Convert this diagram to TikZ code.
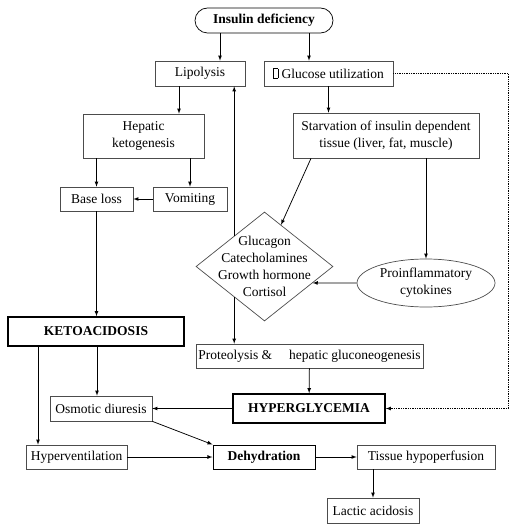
\documentclass[tikz,border=0pt]{standalone}
\usepackage{fontspec}
\setmainfont{Liberation Serif}
\newfontfamily\boxfont{Liberation Serif}
\usetikzlibrary{shapes.geometric,calc}

\newcommand{\nochar}{{\setlength{\fboxsep}{0pt}\setlength{\fboxrule}{0.5pt}\fbox{\rule{0.3em}{0pt}\rule{0pt}{0.68em}}}}

\begin{document}
\begin{tikzpicture}[
        x=1pt, y=-1pt, line width=0.75pt,
        every node/.style={font=\boxfont\fontsize{13.5}{17}\selectfont},
        proc/.style={rectangle, draw=black!70, line width=0.7pt, minimum height=25, inner sep=2pt, align=center},
        keybox/.style={proc, draw=black, line width=1.6pt, minimum height=29, font=\boxfont\fontsize{13.5}{17}\selectfont\bfseries},
        start/.style={proc, draw=black, rounded corners=12.5, font=\boxfont\fontsize{13.5}{17}\selectfont\bfseries},
        hormone/.style={diamond, draw=black!70, line width=0.7pt, minimum width=137, minimum height=109, inner sep=-30pt, align=center},
        cyto/.style={ellipse, draw=black!70, line width=0.7pt, minimum width=138, minimum height=48, inner sep=0pt, align=center},
    ]
        \useasboundingbox (0,0) rectangle (514,524);

        \node[start, minimum width=138] (insulin) at (264,20.5) {Insulin deficiency};
        \node[proc, minimum width=90] (lipo) at (200,73.5) {Lipolysis};
        \node[proc, minimum width=129] (gluc) at (328.5,73.5) {\nochar\ Glucose utilization};
        \node[proc, minimum width=186, minimum height=45] (starv) at (386,135.5) {Starvation of insulin dependent\\tissue (liver, fat, muscle)};
        \node[proc, minimum width=121, minimum height=44] (hep) at (143.5,136) {Hepatic\\ketogenesis};
        \node[proc, minimum width=73, minimum height=24] (base) at (96.5,199) {Base loss};
        \node[proc, minimum width=74, minimum height=24] (vomit) at (190,199) {Vomiting};
        \node[keybox, minimum width=176] (keto) at (96,331.5) {KETOACIDOSIS};
        \node[hormone] (horm) at (264.5,266.5) {Glucagon\\Catecholamines\\Growth hormone\\Cortisol};
        \node[cyto] (cyto) at (426,283) {Proinflammatory\\cytokines};
        \node[proc, minimum width=227, minimum height=24] (prot) at (309.5,356) {Proteolysis \&\hspace{1.25em}hepatic gluconeogenesis};
        \node[keybox, minimum width=152] (hyper) at (309,408.5) {HYPERGLYCEMIA};
        \node[proc, minimum width=102] (osmo) at (101,408.5) {Osmotic diuresis};
        \node[proc, minimum width=101, minimum height=24] (hvent) at (76.5,457) {Hyperventilation};
        \node[proc, draw=black, line width=1pt, minimum width=102, minimum height=24, font=\boxfont\fontsize{13.5}{17}\selectfont\bfseries] (dehyd) at (264,457) {Dehydration};
        \node[proc, minimum width=138, minimum height=24] (tissue) at (426,457) {Tissue hypoperfusion};
        \node[proc, minimum width=92] (lactic) at (373,510.5) {Lactic acidosis};

        % points on the diamond
        \coordinate (hl) at ($(horm.west)!0.56!(horm.north)$);
        \coordinate (hb) at ($(horm.west)!0.56!(horm.south)$);
        \coordinate (ht) at ($(horm.north)!0.24!(horm.east)$);
        \coordinate (hr) at ($(horm.east)!0.3!(horm.south)$);

        \draw[-latex] ([xshift=20]lipo.north |- insulin.south) -- ([xshift=20]lipo.north);
        \draw[-latex] ([xshift=-19.5]gluc.north |- insulin.south) -- ([xshift=-19.5]gluc.north);
        \draw[-latex] ([xshift=-21]lipo.south) -- ([xshift=-21]lipo.south |- hep.north);
        \draw[-latex] (gluc.south) -- (gluc.south |- starv.north);
        \draw[-latex] (base.north |- hep.south) -- (base.north);
        \draw[-latex] (vomit.north |- hep.south) -- (vomit.north);
        \draw[-latex] (vomit) -- (base);
        \draw[-latex] (base.south) -- (base.south |- keto.north);
        \draw[-latex] (hl) -- (hl |- lipo.south);
        \draw[-latex] (hb) -- (hb |- prot.north);
        \draw[-latex] ([xshift=-75]starv.south) -- (ht);
        \draw[-latex] (cyto.north |- starv.south) -- (cyto.north);
        \draw[-latex] (cyto.west) -- (hr);
        \draw[-latex] (prot) -- (hyper);
        \draw[densely dotted, -latex] (gluc.east) -- ++(115,0) |- (hyper.east);
        \draw[-latex] (hyper) -- (osmo);
        \draw[-latex] ([xshift=-4]osmo.north |- keto.south) -- ([xshift=-4]osmo.north);
        \draw[-latex] ([xshift=-58]keto.south) -- ([xshift=-58]keto.south |- hvent.north);
        \draw[-latex] (osmo.south east) -- (dehyd.north west);
        \draw[-latex] (hvent) -- (dehyd);
        \draw[-latex] (dehyd) -- (tissue);
        \draw[-latex] (lactic.north |- tissue.south) -- (lactic.north);
    \end{tikzpicture}
\end{document}
